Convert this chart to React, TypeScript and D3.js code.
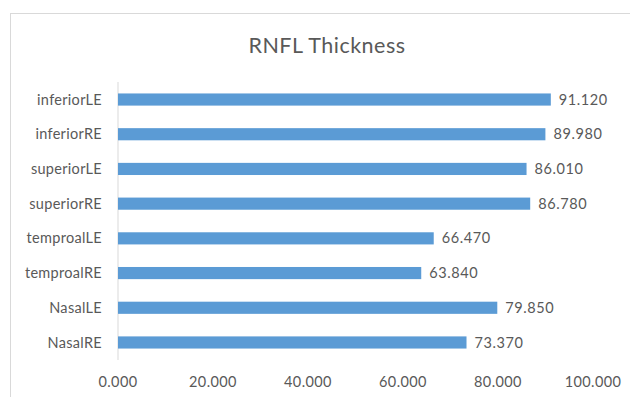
import React from "react";
import * as d3 from "d3";

const categories = [
  "inferiorLE",
  "inferiorRE",
  "superiorLE",
  "superiorRE",
  "temproalLE",
  "temproalRE",
  "NasalLE",
  "NasalRE",
];
const values = [91.12, 89.98, 86.01, 86.78, 66.47, 63.84, 79.85, 73.37];
const xTicks = [0, 20, 40, 60, 80, 100];

const width = 630;
const height = 397;
const margin = { top: 82, left: 118, right: 37, bottom: 37 };
const font = "Lato, 'Open Sans', sans-serif";
const textColor = "#595959";

export default function App() {
  const x = d3
    .scaleLinear()
    .domain([0, 100])
    .range([margin.left, width - margin.right]);
  const y = d3
    .scaleBand()
    .domain(categories)
    .range([margin.top, height - margin.bottom])
    .paddingInner(0.65)
    .paddingOuter(0.33);
  const fmt = d3.format(".3f");

  return (
    <svg
      width={width}
      height={height}
      style={{ position: "absolute", left: 0, top: 0, background: "#fff" }}
      fontFamily={font}
    >
      <rect x={10.5} y={13.5} width={width} height={height} fill="#fff" stroke="#d9d9d9" />
      <text
        x={327}
        y={53}
        textAnchor="middle"
        fontSize={21.5}
        letterSpacing={0.5}
        fill={textColor}
      >
        RNFL Thickness
      </text>
      <line
        x1={x(0)}
        x2={x(0)}
        y1={margin.top}
        y2={height - margin.bottom}
        stroke="#d9d9d9"
      />
      {categories.map((c, i) => {
        const yc = (y(c) ?? 0) + y.bandwidth() / 2;
        return (
          <g key={c}>
            <rect
              x={x(0)}
              y={y(c)}
              width={x(values[i]) - x(0)}
              height={y.bandwidth()}
              fill="#5B9BD5"
            />
            <text
              x={102}
              y={yc}
              dy="0.35em"
              textAnchor="end"
              fontSize={14.5}
              letterSpacing={0.3}
              fill={textColor}
            >
              {c}
            </text>
            <text
              x={x(values[i]) + 8}
              y={yc}
              dy="0.35em"
              fontSize={14.5}
              letterSpacing={0.6}
              fill={textColor}
            >
              {fmt(values[i])}
            </text>
          </g>
        );
      })}
      {xTicks.map((t) => (
        <text
          key={t}
          x={x(t)}
          y={382}
          dy="0.35em"
          textAnchor="middle"
          fontSize={14.5}
          letterSpacing={0.4}
          fill={textColor}
        >
          {fmt(t)}
        </text>
      ))}
    </svg>
  );
}
